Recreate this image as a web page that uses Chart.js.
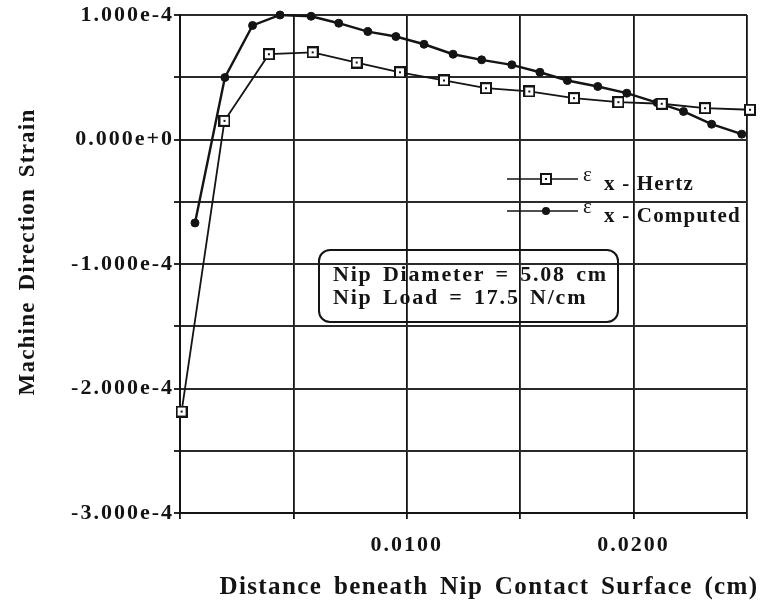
<!DOCTYPE html>
<html>
<head>
<meta charset="utf-8">
<script src="https://cdn.jsdelivr.net/npm/chart.js@4/dist/chart.umd.min.js"></script>
<style>
  html, body { margin: 0; padding: 0; background: #fff; }
  #wrap { width: 762px; height: 606px; position: relative; }
</style>
</head>
<body>
<div id="wrap"><canvas id="c" width="762" height="606"></canvas></div>
<script>
// Depth beneath the nip contact surface (cm) and machine-direction strain
const hertzDepth = [0.00007, 0.00196, 0.00392, 0.00585, 0.00779, 0.0097, 0.01164, 0.01349, 0.0154, 0.01737, 0.01933, 0.02124, 0.02315, 0.02513];
const hertzStrain = [-2.185e-4, 0.15e-4, 0.685e-4, 0.70e-4, 0.618e-4, 0.54e-4, 0.474e-4, 0.412e-4, 0.386e-4, 0.332e-4, 0.30e-4, 0.287e-4, 0.252e-4, 0.239e-4];

const computedDepth = [0.00066, 0.00198, 0.0032, 0.00441, 0.00578, 0.0070, 0.00828, 0.00952, 0.01076, 0.01204, 0.0133, 0.01463, 0.01587, 0.01708, 0.01842, 0.0197, 0.02103, 0.0222, 0.02344, 0.02477];
const computedStrain = [-0.67e-4, 0.498e-4, 0.916e-4, 1.0e-4, 0.99e-4, 0.934e-4, 0.867e-4, 0.827e-4, 0.765e-4, 0.685e-4, 0.64e-4, 0.60e-4, 0.54e-4, 0.474e-4, 0.426e-4, 0.372e-4, 0.297e-4, 0.225e-4, 0.123e-4, 0.043e-4];

const seriesNames = ['x - Hertz', 'x - Computed'];
const xLabeledTicks = [0.01, 0.02];
const yLabeledTicks = [1e-4, 0, -1e-4, -2e-4, -3e-4];
const xTitle = 'Distance beneath Nip Contact Surface (cm)';
const yTitle = 'Machine Direction Strain';
const noteLines = ['Nip Diameter = 5.08 cm', 'Nip Load = 17.5 N/cm'];

const INK = '#141414';
const SERIF = '"Liberation Serif", "Times New Roman", serif';

// open square marker with a small centre dot
function squareMarker() {
  const cv = document.createElement('canvas');
  cv.width = 12; cv.height = 12;
  const g = cv.getContext('2d');
  g.fillStyle = '#fff';
  g.fillRect(1, 1, 10, 10);
  g.strokeStyle = INK;
  g.lineWidth = 2;
  g.strokeRect(1, 1, 10, 10);
  g.fillStyle = INK;
  g.fillRect(5, 5, 2, 2);
  return cv;
}
const sqMark = squareMarker();

function pairs(xs, ys) { return xs.map((x, i) => ({ x: x, y: ys[i] })); }
function near(v, list) { return list.some(t => Math.abs(v - t) < 1e-9); }

const decor = {
  id: 'decor',
  beforeDraw(chart) {
    chart.ctx.letterSpacing = '2px';
  },
  afterDraw(chart) {
    const ctx = chart.ctx;
    ctx.save();
    ctx.fillStyle = INK;
    ctx.strokeStyle = INK;

    // axis titles
    ctx.font = 'bold 23px ' + SERIF;
    ctx.letterSpacing = '1.2px';
    ctx.wordSpacing = '4px';
    ctx.textAlign = 'center';
    ctx.textBaseline = 'middle';
    ctx.save();
    ctx.translate(28, 252);
    ctx.rotate(-Math.PI / 2);
    ctx.fillText(yTitle, 0, 0);
    ctx.restore();

    ctx.font = 'bold 25px ' + SERIF;
    ctx.letterSpacing = '1.4px';
    ctx.fillText(xTitle, 489, 588);

    // parameter box
    ctx.lineWidth = 2;
    ctx.beginPath();
    ctx.roundRect(319, 250, 299, 72, 11);
    ctx.stroke();
    ctx.font = 'bold 22px ' + SERIF;
    ctx.letterSpacing = '1.8px';
    ctx.wordSpacing = '3px';
    ctx.textAlign = 'left';
    ctx.textBaseline = 'alphabetic';
    ctx.fillText(noteLines[0], 333, 281);
    ctx.fillText(noteLines[1], 333, 304);

    // legend
    ctx.wordSpacing = '0px';
    const rows = [
      { y: 179, base: 190 },
      { y: 211, base: 222 }
    ];
    rows.forEach((r, i) => {
      ctx.lineWidth = 1.5;
      ctx.beginPath();
      ctx.moveTo(507, r.y);
      ctx.lineTo(578, r.y);
      ctx.stroke();
      if (i === 0) {
        ctx.drawImage(sqMark, 546 - 6, r.y - 6);
      } else {
        ctx.beginPath();
        ctx.arc(546, r.y, 4, 0, Math.PI * 2);
        ctx.fill();
      }
      ctx.letterSpacing = '0px';
      ctx.font = '21px ' + SERIF;
      ctx.fillText('\u03b5', 583, r.base - 9);
      ctx.font = 'bold 21px ' + SERIF;
      ctx.letterSpacing = '1.2px';
      ctx.fillText(seriesNames[i], 604, r.base);
    });

    ctx.restore();
    ctx.letterSpacing = '0px';
  }
};

const tickFont = { family: SERIF, size: 22, weight: 'bold' };

new Chart(document.getElementById('c'), {
  type: 'scatter',
  data: {
    datasets: [
      {
        label: seriesNames[0],
        data: pairs(hertzDepth, hertzStrain),
        showLine: true,
        borderColor: INK,
        borderWidth: 1.8,
        pointStyle: sqMark,
        pointRadius: 6,
        pointHoverRadius: 6,
        clip: false,
        tension: 0
      },
      {
        label: seriesNames[1],
        data: pairs(computedDepth, computedStrain),
        showLine: true,
        borderColor: INK,
        borderWidth: 2.4,
        pointStyle: 'circle',
        pointRadius: 4,
        pointHoverRadius: 4,
        pointBackgroundColor: INK,
        pointBorderColor: INK,
        pointBorderWidth: 1,
        clip: false,
        tension: 0
      }
    ]
  },
  options: {
    responsive: false,
    animation: false,
    events: [],
    layout: { padding: { top: 15, right: 15, left: 0, bottom: 0 } },
    plugins: { legend: { display: false }, tooltip: { enabled: false } },
    scales: {
      x: {
        type: 'linear',
        min: 0,
        max: 0.025,
        afterFit(s) { s.height = 93; },
        border: { display: true, color: INK, width: 2 },
        grid: { color: INK, lineWidth: 1.8, tickLength: 6, drawTicks: true },
        ticks: {
          stepSize: 0.005,
          padding: 13,
          color: INK,
          font: tickFont,
          maxRotation: 0,
          autoSkip: false,
          callback: v => near(v, xLabeledTicks) ? v.toFixed(4) : ''
        }
      },
      y: {
        type: 'linear',
        min: -3e-4,
        max: 1e-4,
        afterFit(s) { s.width = 180; },
        border: { display: true, color: INK, width: 2 },
        grid: { color: '#2a2a2a', lineWidth: 2, tickLength: 6, drawTicks: true },
        ticks: {
          stepSize: 0.5e-4,
          padding: 0,
          color: INK,
          font: tickFont,
          autoSkip: false,
          callback: v => near(v, yLabeledTicks) ? Number(v.toPrecision(6)).toExponential(3) : ''
        }
      }
    }
  },
  plugins: [decor]
});
</script>
</body>
</html>
